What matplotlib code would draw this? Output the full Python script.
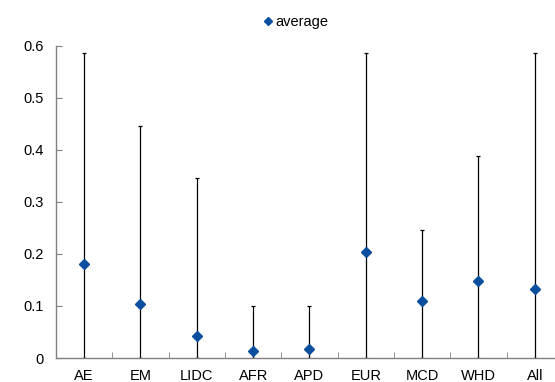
import matplotlib as mpl
mpl.use("Agg")
import matplotlib.pyplot as plt
import numpy as np

# values
groups = ["AE", "EM", "LIDC", "AFR", "APD", "EUR", "MCD", "WHD", "All"]
average = [0.181, 0.104, 0.043, 0.013, 0.018, 0.204, 0.109, 0.148, 0.132]
low = [0.0, 0.0, 0.0, 0.0, 0.0, 0.0, 0.0, 0.0, 0.0]
high = [0.585, 0.445, 0.345, 0.100, 0.100, 0.585, 0.246, 0.387, 0.585]
yticks = [0, 0.1, 0.2, 0.3, 0.4, 0.5, 0.6]


def main():
    plt.rcParams['font.family'] = ['Liberation Sans', 'DejaVu Sans']
    blue = "#0a4f9e"
    grey = "#808080"

    fig = plt.figure(figsize=(5.55, 3.82), dpi=100)
    ax = fig.add_axes([0.1009, 0.0628, 0.9135, 0.818])

    x = np.arange(len(groups))
    avg = np.array(average)
    yerr = [avg - np.array(low), np.array(high) - avg]

    ax.errorbar(x, avg, yerr=yerr, fmt="none", ecolor="black",
                elinewidth=0.9, capsize=1.5, capthick=0.9, zorder=2)
    ax.plot(x, avg, linestyle="none", marker="D", ms=5.2, color=blue,
            label="average", zorder=3)

    ax.set_xlim(-0.5, len(groups) - 0.5)
    ax.set_ylim(0, 0.6)
    ax.set_yticks(yticks)
    ax.set_yticklabels([f"{v:g}" for v in yticks])
    ax.set_xticks(x)
    ax.set_xticklabels(groups)
    ax.set_xticks(x[:-1] + 0.5, minor=True)

    for side in ["top", "right"]:
        ax.spines[side].set_visible(False)
    for side in ["left", "bottom"]:
        ax.spines[side].set_color(grey)
        ax.spines[side].set_linewidth(1.0)

    ax.tick_params(axis="y", direction="in", length=4, color=grey,
                   labelsize=10.5, pad=9)
    ax.tick_params(axis="x", which="major", length=0, labelsize=10.5, pad=8)
    ax.tick_params(axis="x", which="minor", direction="in", length=4,
                   color=grey)

    fig.legend(loc="center", bbox_to_anchor=(0.532, 0.942),
               frameon=False, fontsize=10.5, handletextpad=0.15,
               markerscale=0.8, handlelength=0.8)

    fig.savefig("out.png", dpi=100)
    plt.close(fig)


if __name__ == "__main__":
    main()
